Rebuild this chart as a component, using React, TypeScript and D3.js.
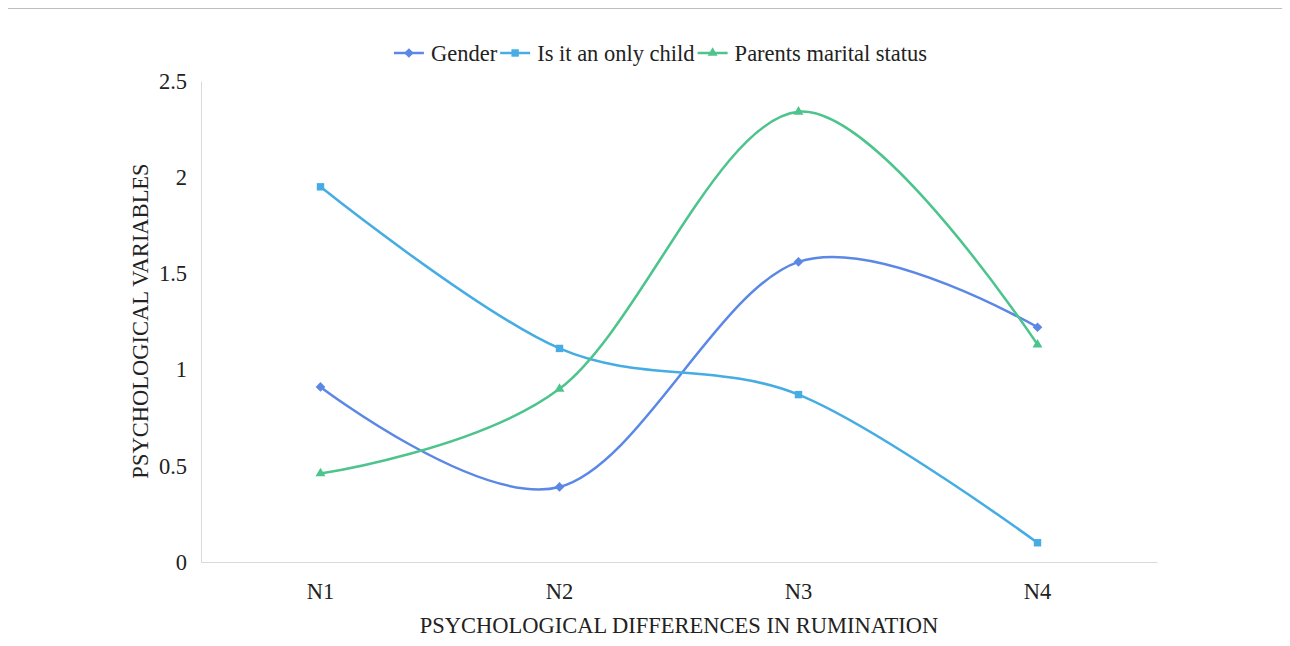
import * as React from "react";
import * as d3 from "d3";

const categories = ["N1", "N2", "N3", "N4"];
const gender = [0.91, 0.39, 1.56, 1.22];
const onlyChild = [1.95, 1.11, 0.87, 0.1];
const parentsStatus = [0.46, 0.9, 2.34, 1.13];
const yTicks = [0, 0.5, 1, 1.5, 2, 2.5];

const series = [
  { name: "Gender", values: gender, color: "#5b88e6", symbol: d3.symbolDiamond2, size: 60 },
  { name: "Is it an only child", values: onlyChild, color: "#45ade3", symbol: d3.symbolSquare2, size: 70 },
  { name: "Parents marital status", values: parentsStatus, color: "#4cc48c", symbol: d3.symbolTriangle2, size: 70 },
];

const W = 1290;
const H = 646;
const margin = { left: 201, right: 133, top: 81, bottom: 84 };
const font = "Liberation Serif, Tinos, Times New Roman, DejaVu Serif, serif";
const fs = 22.5;

function drawChart(svgRef: React.RefObject<SVGSVGElement>) {
  const svg = d3.select(svgRef.current);
  svg.selectAll("*").remove();

  svg.attr("width", W).attr("height", H).style("display", "block");

  // outer frame
  svg
    .append("rect")
    .attr("x", 2.5)
    .attr("y", 8.5)
    .attr("width", W - 5)
    .attr("height", H)
    .attr("fill", "#fff")
    .attr("stroke", "#bdbdbd");

  const xScale = d3
    .scaleBand()
    .domain(categories)
    .range([margin.left, W - margin.right]);

  const yScale = d3
    .scaleLinear()
    .domain([0, 2.5])
    .range([H - margin.bottom, margin.top]);

  // axes
  const xAxis = d3.axisBottom(xScale).tickSize(0).tickPadding(21);
  const gx = svg
    .append("g")
    .attr("transform", "translate(0," + yScale(0) + ")")
    .call(xAxis)
    .attr("font-family", font)
    .attr("font-size", fs);
  gx.select(".domain").attr("stroke", "#d9d9d9");
  gx.selectAll("text").attr("fill", "#222");

  const yAxis = d3.axisLeft(yScale).tickValues(yTicks).tickSize(0).tickPadding(14).tickFormat((d) => `${d}`);
  const gy = svg
    .append("g")
    .attr("transform", "translate(" + margin.left + ",0)")
    .call(yAxis)
    .attr("font-family", font)
    .attr("font-size", fs);
  gy.select(".domain").attr("stroke", "#d9d9d9");
  gy.selectAll("text").attr("fill", "#222");

  // axis titles
  svg
    .append("text")
    .attr("x", 679)
    .attr("y", 633)
    .attr("text-anchor", "middle")
    .attr("font-family", font)
    .attr("font-size", fs)
    .attr("fill", "#222")
    .text("PSYCHOLOGICAL DIFFERENCES IN RUMINATION");

  svg
    .append("text")
    .attr("transform", "translate(148,321) rotate(-90)")
    .attr("text-anchor", "middle")
    .attr("font-family", font)
    .attr("font-size", fs)
    .attr("fill", "#222")
    .text("PSYCHOLOGICAL VARIABLES");

  const line = d3
    .line<number>()
    .x((v, i) => xScale(categories[i])! + xScale.bandwidth() / 2)
    .y((v) => yScale(v))
    .curve(d3.curveCardinal.tension(0));

  series.forEach((s) => {
    svg
      .append("path")
      .datum(s.values)
      .attr("d", line)
      .attr("fill", "none")
      .attr("stroke", s.color)
      .attr("stroke-width", 2.5);

    svg
      .selectAll(null)
      .data(s.values)
      .join("path")
      .attr("transform", (v, i) => `translate(${xScale(categories[i])! + xScale.bandwidth() / 2},${yScale(v)})`)
      .attr("d", d3.symbol().type(s.symbol).size(s.size)())
      .attr("fill", s.color);
  });

  // legend, laid out from measured text widths and centred
  const legend = svg.append("g");
  const lineLen = 30;
  const textGap = 7;
  const itemGap = 3;
  let cursor = 0;
  series.forEach((s) => {
    const g = legend.append("g").attr("transform", `translate(${cursor},53)`);
    g.append("line").attr("x1", 0).attr("x2", lineLen).attr("stroke", s.color).attr("stroke-width", 2.5);
    g.append("path")
      .attr("transform", `translate(${lineLen / 2},0)`)
      .attr("d", d3.symbol().type(s.symbol).size(s.size)())
      .attr("fill", s.color);
    const t = g
      .append("text")
      .attr("x", lineLen + textGap)
      .attr("dy", "0.35em")
      .attr("font-family", font)
      .attr("font-size", fs)
      .attr("fill", "#222")
      .text(s.name);
    cursor += lineLen + textGap + (t.node() as SVGTextElement).getComputedTextLength() + itemGap;
  });
  legend.attr("transform", `translate(${660.5 - (cursor - itemGap) / 2},0)`);
}

const App: React.FunctionComponent = () => {
  const svg = React.useRef<SVGSVGElement>(null);
  React.useEffect(() => {
    drawChart(svg);
  }, [svg]);

  return (
    <div id="chart" style={{ margin: -8 }}>
      <svg ref={svg} />
    </div>
  );
};

export default App;
